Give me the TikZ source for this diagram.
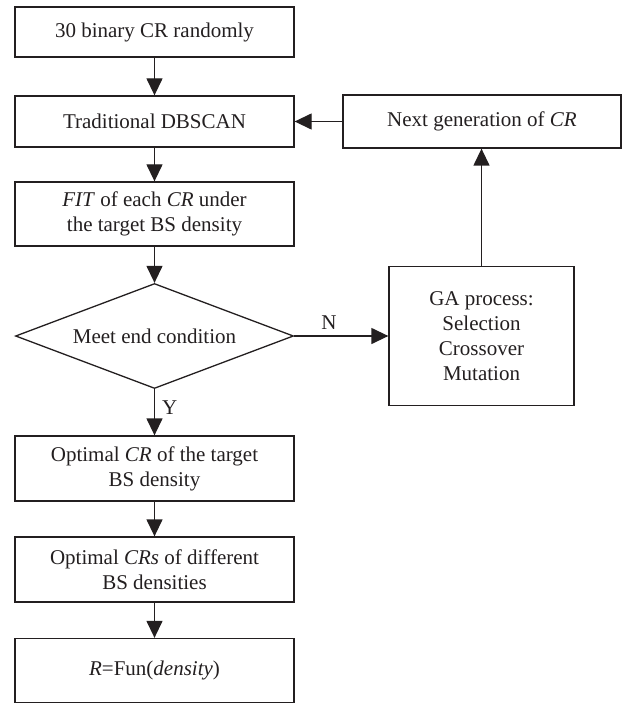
\documentclass[tikz,border=0pt]{standalone}
\usepackage{fontspec}
\setmainfont{Liberation Serif}
\usetikzlibrary{shapes.geometric,arrows.meta}
\definecolor{ink}{HTML}{231F20}
\begin{document}
\begin{tikzpicture}[x=1pt,y=-1pt,
  every node/.style={text=ink,font=\fontsize{21}{25}\selectfont},
  boxnode/.style={draw=ink,line width=1.3pt,rectangle,inner sep=0pt,minimum width=279pt,align=center},
  decnode/.style={draw=ink,line width=1.3pt,diamond,aspect=2.65,inner sep=0pt,minimum width=278pt,minimum height=105pt},
  flow/.style={draw=ink,line width=1.3pt,-{Triangle[width=16pt,length=17pt]}},
  lbl/.style={inner sep=0pt}]
\useasboundingbox (0,0) rectangle (627,703);
\node[boxnode,minimum height=50pt] (b1) at (154.5,32) {30 binary CR randomly};
\node[boxnode,minimum height=51pt] (b2) at (154.5,121.5) {Traditional DBSCAN};
\node[boxnode,minimum height=64pt] (b3) at (154.5,214) {\textit{FIT} of each \textit{CR} under\\the target BS density};
\node[decnode] (d) at (154.5,336) {Meet end condition};
\node[boxnode,minimum height=65pt] (b4) at (154.5,468.5) {Optimal \textit{CR} of the target\\BS density};
\node[boxnode,minimum height=65pt] (b5) at (154.5,569.5) {Optimal \textit{CRs} of different\\BS densities};
\node[boxnode,minimum height=64pt] (b6) at (154.5,670.5) {\textit{R}=Fun(\textit{density})};
\node[boxnode,minimum width=278pt,minimum height=53pt] (ng) at (482,121.5) {Next generation of \textit{CR}};
\node[boxnode,minimum width=185pt,minimum height=139pt] (ga) at (481.5,336) {GA process:\\Selection\\Crossover\\Mutation};
\draw[flow] (b1) -- (b2);
\draw[flow] (b2) -- (b3);
\draw[flow] (b3) -- (d);
\draw[flow] (d) -- node[lbl,pos=0.4,right=7pt] (ly) {Y} (b4);
\draw[flow] (b4) -- (b5);
\draw[flow] (b5) -- (b6);
\draw[flow] (d.east) -- node[lbl,pos=0.37,above=6pt] (ln) {N} (d.east -| ga.west);
\draw[flow] (ga.north) -- (ga.north |- ng.south);
\draw[flow] (ng.west) -- (ng.west -| b2.east);
\end{tikzpicture}
\end{document}
